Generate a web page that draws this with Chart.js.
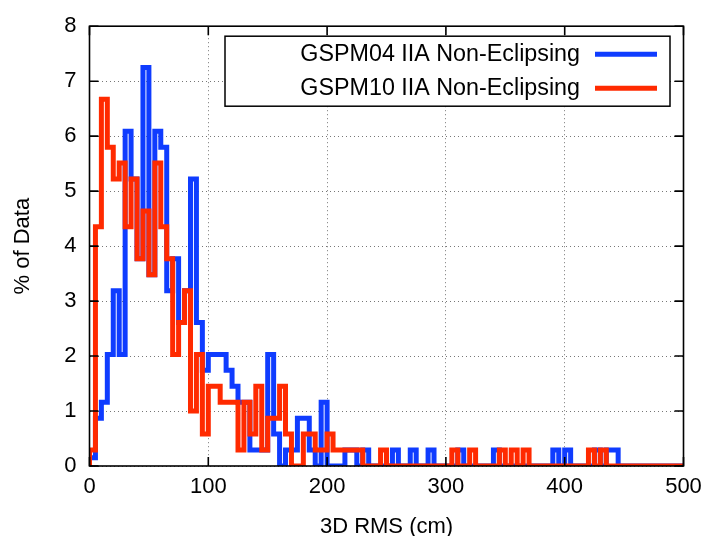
<!DOCTYPE html>
<html><head><meta charset="utf-8">
<script src="https://cdn.jsdelivr.net/npm/chart.js@4/dist/chart.umd.min.js"></script>
<style>html,body{margin:0;padding:0;background:#fff;}</style>
</head><body>
<canvas id="c" width="711" height="536"></canvas>
<script>
// Histogram bins (left edge, cm), 5 cm wide
const binLeft = [0,5,10,15,20,25,30,35,40,45,50,55,60,65,70,75,80,85,90,95,
 100,105,110,115,120,125,130,135,140,145,150,155,160,165,170,175,180,185,190,195,
 200,205,210,215,220,225,230,235,240,245,250,255,260,265,270,275,280,285,290,295,
 300,305,310,315,320,325,330,335,340,345,350,355,360,365,370,375,380,385,390,395,
 400,405,410,415,420,425,430,435,440,445,450,455,460,465,470,475,480,485,490,495];
const binEnd = 500;

// % of data per bin
const gspm04 = [0.15,0.87,1.16,2.03,3.19,2.03,6.09,5.22,3.77,7.25,
 3.48,6.09,5.80,3.19,3.77,2.61,3.19,5.22,2.61,1.74,
 2.03,2.03,2.03,1.74,1.45,1.16,1.16,0.29,0.29,0.29,
 2.03,0.58,0,0.29,0.29,0.87,0.87,0.29,0,1.16,
 0,0,0,0.29,0.29,0,0.29,0,0,0,
 0,0.29,0,0,0.29,0,0,0.29,0,0,
 0,0,0.29,0,0,0,0,0,0.29,0,
 0,0,0,0,0,0,0,0,0.29,0,
 0.29,0,0,0,0,0.29,0,0.29,0.29,0,
 0,0,0,0,0,0,0,0,0,0];
const gspm10 = [0.29,4.35,6.67,5.80,5.22,5.51,4.35,5.22,3.77,4.64,
 3.48,5.51,4.35,3.77,2.03,2.61,3.19,1.0,2.03,0.58,
 1.45,1.45,1.16,1.16,1.16,0.29,1.16,0.58,1.45,0.29,
 0.87,0.87,1.45,0.58,0,0,0.58,0.58,0.29,0.29,
 0.58,0.29,0.29,0.29,0.29,0.29,0,0,0,0.29,
 0,0,0,0,0,0,0,0,0,0,
 0,0.29,0,0,0.29,0,0,0,0,0.29,
 0,0.29,0,0.29,0,0,0,0,0,0,
 0,0,0,0,0.29,0,0.29,0,0,0,
 0,0,0,0,0,0,0,0,0,0];

const seriesLabels = ['GSPM04 IIA Non-Eclipsing', 'GSPM10 IIA Non-Eclipsing'];
const xTicks = [0,100,200,300,400,500];
const yTicks = [0,1,2,3,4,5,6,7,8];

const BLUE = '#0f3cff', RED = '#ff2a00';
const FONT = 'Liberation Sans, Arial, Helvetica, sans-serif';

function steps(vals){
  const pts = [{x: binLeft[0], y: 0}];
  for (let i = 0; i < vals.length; i++) pts.push({x: binLeft[i], y: vals[i]});
  pts.push({x: binEnd, y: vals[vals.length-1]});
  return pts;
}

const framePlugin = {
  id: 'frame',
  afterDatasetsDraw(chart){
    const {ctx, chartArea: a, scales} = chart;
    ctx.save();
    ctx.strokeStyle = '#000';
    ctx.lineWidth = 1.6;
    ctx.strokeRect(a.left, a.top, a.right - a.left, a.bottom - a.top);
    const L = 9;
    ctx.beginPath();
    yTicks.forEach(v => {
      const y = scales.y.getPixelForValue(v);
      ctx.moveTo(a.left, y); ctx.lineTo(a.left + L, y);
      ctx.moveTo(a.right, y); ctx.lineTo(a.right - L, y);
    });
    xTicks.forEach(v => {
      const x = scales.x.getPixelForValue(v);
      ctx.moveTo(x, a.bottom); ctx.lineTo(x, a.bottom - L);
      ctx.moveTo(x, a.top); ctx.lineTo(x, a.top + L);
    });
    ctx.stroke();
    ctx.restore();
  },
  afterDraw(chart){
    const {ctx, chartArea: a} = chart;
    const ds = chart.data.datasets;
    const bx1 = a.right - 13.5, bx0 = bx1 - 445, by0 = a.top + 10, bh = 70;
    ctx.save();
    ctx.fillStyle = '#fff';
    ctx.fillRect(bx0, by0, bx1 - bx0, bh);
    ctx.strokeStyle = '#000';
    ctx.lineWidth = 1.5;
    ctx.strokeRect(bx0, by0, bx1 - bx0, bh);
    ctx.font = '23.3px ' + FONT;
    ctx.textAlign = 'right';
    ctx.textBaseline = 'middle';
    ds.forEach((d, i) => {
      const y = by0 + 18 + i * 34;
      ctx.fillStyle = '#000';
      ctx.fillText(d.label, bx0 + 355, y);
      ctx.strokeStyle = d.borderColor;
      ctx.lineWidth = 5;
      ctx.beginPath();
      ctx.moveTo(bx0 + 370, y); ctx.lineTo(bx0 + 432, y);
      ctx.stroke();
    });
    ctx.restore();
  }
};

new Chart(document.getElementById('c'), {
  type: 'line',
  data: {
    datasets: [
      {label: seriesLabels[0], data: steps(gspm04), borderColor: BLUE, backgroundColor: BLUE,
       borderWidth: 5, stepped: 'before', pointRadius: 0, fill: false, order: 2,
       borderJoinStyle: 'miter', borderCapStyle: 'butt'},
      {label: seriesLabels[1], data: steps(gspm10), borderColor: RED, backgroundColor: RED,
       borderWidth: 5, stepped: 'before', pointRadius: 0, fill: false, order: 1,
       borderJoinStyle: 'miter', borderCapStyle: 'butt'}
    ]
  },
  options: {
    responsive: false,
    animation: false,
    events: [],
    layout: {padding: {left: 0, right: 27.5, top: 20, bottom: 0}},
    plugins: {legend: {display: false}, tooltip: {enabled: false}},
    scales: {
      x: {
        type: 'linear', min: 0, max: 500,
        afterBuildTicks(s){ s.ticks = xTicks.map(v => ({value: v})); },
        ticks: {font: {family: FONT, size: 22}, color: '#000', padding: 8, maxRotation: 0, autoSkip: false},
        grid: {color: '#777', lineWidth: 1, drawTicks: false, tickLength: 0},
        border: {display: false, dash: [1, 3]},
        title: {display: true, text: '3D RMS (cm)', color: '#000', font: {family: FONT, size: 22, lineHeight: 1}, padding: {top: 0, bottom: -2}},
        afterFit(s){ s.height = 70; }
      },
      y: {
        min: 0, max: 8,
        afterBuildTicks(s){ s.ticks = yTicks.map(v => ({value: v})); },
        ticks: {font: {family: FONT, size: 22}, color: '#000', padding: 13, autoSkip: false},
        grid: {color: '#777', lineWidth: 1, drawTicks: false, tickLength: 0},
        border: {display: false, dash: [1, 3]},
        title: {display: true, text: '% of Data', color: '#000', font: {family: FONT, size: 22, lineHeight: 1}, padding: {top: 12, bottom: 0}},
        afterFit(s){ s.width = 89.5; }
      }
    }
  },
  plugins: [framePlugin]
});
</script>
</body></html>
